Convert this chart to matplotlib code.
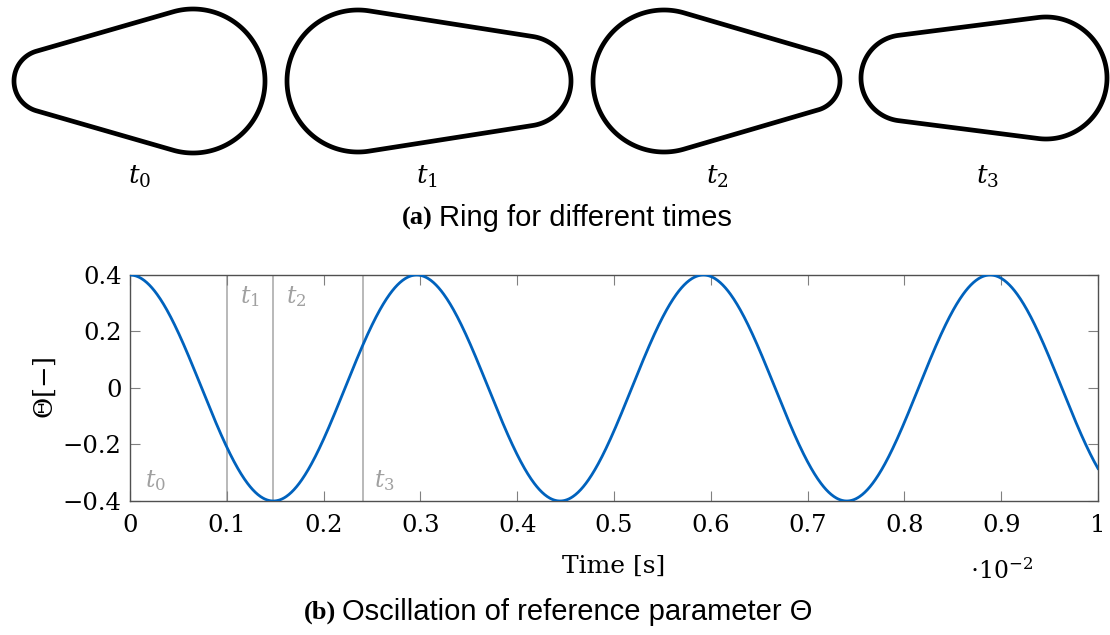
import numpy as np
import matplotlib
matplotlib.use("Agg")
import matplotlib.pyplot as plt
from matplotlib.patches import Polygon

plt.rcParams['mathtext.fontset'] = 'dejavuserif'
plt.rcParams['font.family'] = 'DejaVu Serif'

# ring shapes: (x, y, r) of left and right circle, in pixels of the top strip
ring_left  = [(45, 81, 31), (358, 81, 71), (664, 81, 71), (904, 78, 43)]
ring_right = [(193, 81, 72), (526, 81, 45), (810, 81, 30), (1046, 78, 61)]
ring_labels = [r'$t_0$', r'$t_1$', r'$t_2$', r'$t_3$']
ring_label_x = [140, 427, 717, 987]

# oscillation of the reference parameter (time in 1e-2 s)
amplitude = 0.4
period = 0.2962
t_marks = [0.0, 0.1, 0.1481, 0.241]
t_mark_labels = [r'$t_0$', r'$t_1$', r'$t_2$', r'$t_3$']
t_label_pos = [(0.026, -0.326), (0.124, 0.322), (0.172, 0.322), (0.263, -0.326)]
xticks = [0, 0.1, 0.2, 0.3, 0.4, 0.5, 0.6, 0.7, 0.8, 0.9, 1]
xticklabels = ['0', '0.1', '0.2', '0.3', '0.4', '0.5', '0.6', '0.7', '0.8', '0.9', '1']
yticks = [-0.4, -0.2, 0, 0.2, 0.4]
yticklabels = ['\u22120.4', '\u22120.2', '0', '0.2', '0.4']


def ring_outline(c1, c2, n=200):
    # hull of two circles joined by their outer tangents
    x1, y1, r1 = c1
    x2, y2, r2 = c2
    d = np.hypot(x2 - x1, y2 - y1)
    base = np.arctan2(y2 - y1, x2 - x1)
    phi = np.arccos((r1 - r2) / d)
    a2 = np.linspace(-phi, phi, n) + base
    a1 = np.linspace(phi, 2 * np.pi - phi, n) + base
    xs = np.concatenate([x2 + r2 * np.cos(a2), x1 + r1 * np.cos(a1)])
    ys = np.concatenate([y2 + r2 * np.sin(a2), y1 + r1 * np.sin(a1)])
    return np.column_stack([xs, ys])


W, H = 1110, 635
fig = plt.figure(figsize=(W / 100, H / 100), dpi=100)

# top strip with the rings
axr = fig.add_axes([0, 1 - 200 / H, 1, 200 / H])
for c1, c2, lab, lx in zip(ring_left, ring_right, ring_labels, ring_label_x):
    pts = ring_outline(c1, c2)
    axr.add_patch(Polygon(pts, closed=True, fill=False, edgecolor='black',
                          lw=3.4, joinstyle='round'))
    axr.text(lx, 177, lab, fontsize=19, ha='center', va='center')
axr.set_xlim(0, W)
axr.set_ylim(200, 0)
axr.axis('off')

fig.text(433 / W, 1 - 218 / H, '(a)', fontsize=19, fontweight='bold',
         family='Liberation Serif', ha='right', va='center')
fig.text(439 / W, 1 - 218 / H, 'Ring for different times', fontsize=21,
         family='Liberation Sans', ha='left', va='center')

# oscillation plot
ax = fig.add_axes([130 / W, 1 - 501 / H, 968 / W, 226 / H])
t = np.linspace(0, 1, 1500)
theta = amplitude * np.cos(2 * np.pi * t / period)
for tm in t_marks[1:]:
    ax.axvline(tm, color='#a6a6a6', lw=1.1, zorder=1)
ax.plot(t, theta, color='#0062bd', lw=2.0, zorder=3)
for lab, (px, py) in zip(t_mark_labels, t_label_pos):
    ax.text(px, py, lab, color='#a0a0a0', fontsize=17, ha='center', va='center')

ax.set_xlim(0, 1)
ax.set_ylim(-0.4, 0.4)
ax.set_xticks(xticks)
ax.set_xticklabels(xticklabels)
ax.set_yticks(yticks)
ax.set_yticklabels(yticklabels)
ax.tick_params(direction='in', length=7, width=0.8, color='#808080',
               top=True, right=True, labelsize=17.5)
ax.tick_params(axis='x', pad=9)
ax.tick_params(axis='y', pad=6)
for s in ax.spines.values():
    s.set_color('#505050')
    s.set_linewidth(1.0)
ax.set_xlabel('Time [s]', fontsize=18, labelpad=13)
ax.set_ylabel(r'$\Theta[-]$', fontsize=18.5, labelpad=3)
fig.text(1002 / W, 1 - 571 / H, r'$\cdot10^{-2}$', fontsize=17, ha='center', va='center')

fig.text(336 / W, 1 - 612 / H, '(b)', fontsize=19, fontweight='bold',
         family='Liberation Serif', ha='right', va='center')
fig.text(342 / W, 1 - 612 / H, 'Oscillation of reference parameter \u0398', fontsize=21,
         family='Liberation Sans', ha='left', va='center')

fig.savefig('out.png', dpi=100)
